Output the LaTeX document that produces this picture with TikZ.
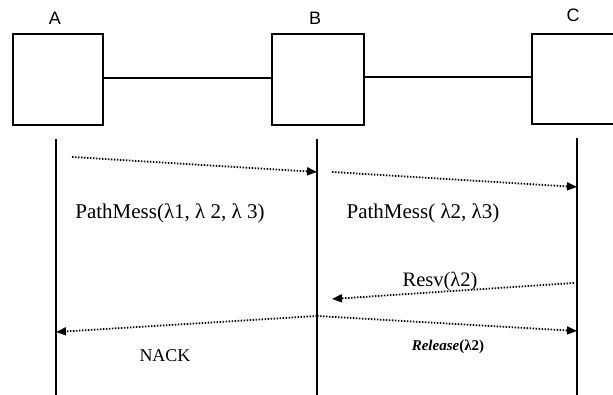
\documentclass[tikz,border=0pt]{standalone}
\usepackage{fontspec}
\setmainfont{Liberation Serif}
\newfontfamily\labelfont{Liberation Sans}
\usetikzlibrary{arrows.meta}
\begin{document}
\begin{tikzpicture}[x=1pt,y=-1pt,
  nodebox/.style={draw,line width=1.7pt,minimum width=90pt,minimum height=91pt,inner sep=0pt},
  link/.style={line width=1.5pt},
  lifeline/.style={line width=1.7pt},
  msg/.style={line width=1.8pt,dash pattern=on 1.5pt off 1.5pt,
    -{Triangle[length=10pt,width=8pt]}},
  msgtext/.style={font=\fontsize{21}{24}\selectfont,inner sep=0pt},
  nodename/.style={font=\labelfont\fontsize{18}{20}\selectfont,inner sep=0pt}]
\useasboundingbox (0,0) rectangle (613,395);
\clip (0,0) rectangle (613,395);

% network elements
\node[nodebox] (boxA) at (58,79.5) {};
\node[nodebox,minimum width=92pt] (boxB) at (318,79.5) {};
\node[nodebox,minimum height=90pt,minimum width=110pt,anchor=north west] (boxC) at (531,33) {};
\node[nodename] (lblA) at (55,18) {A};
\node[nodename] (lblB) at (315,18) {B};
\node[nodename] (lblC) at (573,15) {C};
\draw[link] (boxA.east |- 0,78) -- (boxB.west |- 0,78);
\draw[link] (boxB.east |- 0,77) -- (boxC.west |- 0,77);

% lifelines
\coordinate (topA) at (56,139);  \coordinate (botA) at (56,400);
\coordinate (topB) at (317,139); \coordinate (botB) at (317,400);
\coordinate (topC) at (577,138); \coordinate (botC) at (577,400);
\draw[lifeline] (topA) -- (botA);
\draw[lifeline] (topB) -- (botB);
\draw[lifeline] (topC) -- (botC);

% message end points
\coordinate (p1s) at (72,157);  \coordinate (p1e) at (317,172);
\coordinate (p2s) at (332,172); \coordinate (p2e) at (577,187);
\coordinate (rvs) at (574,283); \coordinate (rve) at (332,299);
\coordinate (nks) at (317,316); \coordinate (nke) at (56,332);
\coordinate (rle) at (577,331);

% messages
\draw[msg] (p1s) -- (p1e);
\draw[msg] (p2s) -- (p2e);
\draw[msg] (rvs) -- (rve);
\draw[msg] (nks) -- (nke);
\draw[msg] (nks) -- (rle);

% message labels
\node[msgtext] (t1) at (170,213) {PathMess(λ1, λ 2, λ 3)};
\node[msgtext] (t2) at (423,213) {PathMess( λ2, λ3)};
\node[msgtext,font=\fontsize{20.5}{23}\selectfont] (t3) at (440,281) {Resv(λ2)};
\node[msgtext,font=\fontsize{18}{20}\selectfont] (t4) at (165,356) {NACK};
\node[msgtext,font=\fontsize{15}{17}\selectfont\bfseries] (t5) at (448,347) {\textit{Release}(λ2)};
\end{tikzpicture}
\end{document}
